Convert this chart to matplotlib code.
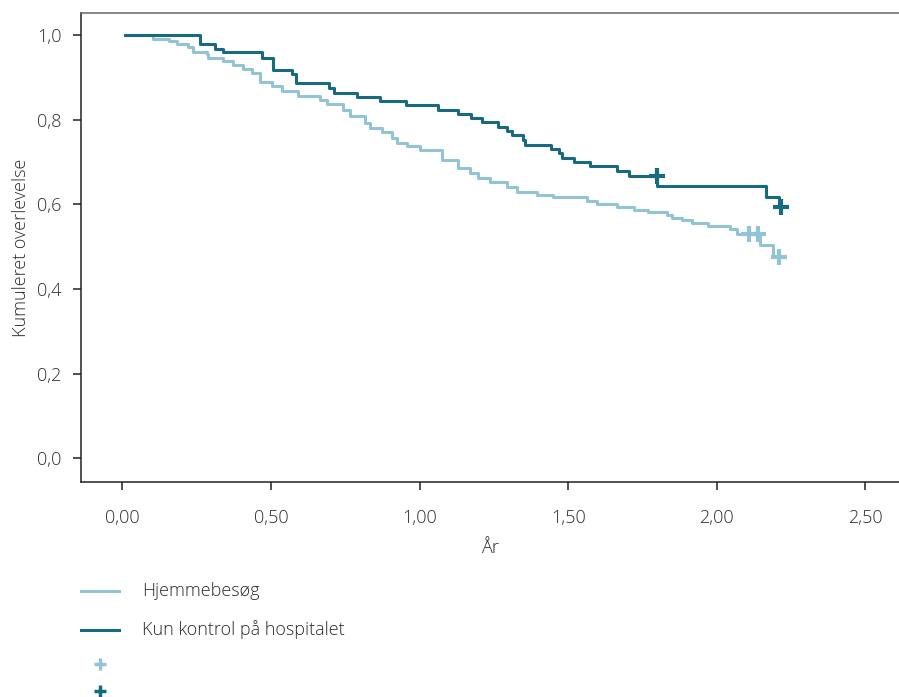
import matplotlib
matplotlib.use("Agg")
import matplotlib.pyplot as plt
from matplotlib.lines import Line2D

plt.rcParams['font.family'] = ['Open Sans', 'DejaVu Sans']
plt.rcParams['font.weight'] = 'light'
plt.rcParams['axes.labelweight'] = 'light'

# Kaplan-Meier steps
homeTimes = [0.01, 0.102, 0.158, 0.183, 0.222, 0.239, 0.284, 0.289, 0.340, 0.373, 0.407, 0.435,
             0.463, 0.503, 0.536, 0.592, 0.665, 0.688, 0.744, 0.766, 0.817, 0.833, 0.873, 0.906,
             0.923, 0.957, 1.002, 1.075, 1.131, 1.170, 1.198, 1.237, 1.293, 1.327, 1.394, 1.450,
             1.562, 1.596, 1.663, 1.720, 1.770, 1.832, 1.849, 1.882, 1.916, 1.972, 2.045, 2.067,
             2.146, 2.190, 2.210]
homeSurv = [1.0, 0.991, 0.985, 0.979, 0.972, 0.960, 0.955, 0.946, 0.938, 0.930, 0.920, 0.910,
            0.890, 0.881, 0.867, 0.857, 0.847, 0.837, 0.823, 0.808, 0.792, 0.780, 0.772, 0.757,
            0.745, 0.737, 0.728, 0.705, 0.686, 0.674, 0.662, 0.652, 0.641, 0.630, 0.622, 0.617,
            0.609, 0.601, 0.593, 0.587, 0.582, 0.576, 0.569, 0.562, 0.556, 0.548, 0.541, 0.531,
            0.503, 0.475, 0.475]
homeCensT = [2.11, 2.14, 2.21]
homeCensS = [0.531, 0.531, 0.475]

hospTimes = [0.01, 0.261, 0.312, 0.340, 0.469, 0.506, 0.570, 0.584, 0.697, 0.712, 0.790, 0.867,
             0.955, 1.061, 1.131, 1.173, 1.209, 1.263, 1.293, 1.310, 1.347, 1.355, 1.442, 1.470,
             1.478, 1.520, 1.574, 1.663, 1.704, 1.800, 2.165, 2.210, 2.216]
hospSurv = [1.0, 0.979, 0.968, 0.959, 0.947, 0.918, 0.909, 0.887, 0.876, 0.864, 0.853, 0.845,
            0.836, 0.823, 0.814, 0.804, 0.795, 0.782, 0.774, 0.764, 0.752, 0.741, 0.730, 0.721,
            0.709, 0.700, 0.690, 0.680, 0.667, 0.643, 0.617, 0.593, 0.593]
hospCensT = [1.798, 2.216]
hospCensS = [0.667, 0.593]

xTicks = [0, 0.5, 1.0, 1.5, 2.0, 2.5]
yTicks = [0, 0.2, 0.4, 0.6, 0.8, 1.0]
labels = ["Hjemmebesøg", "Kun kontrol på hospitalet"]

lightCol = "#93c4d5"
darkCol = "#176a7f"
textCol = "#2b2b2b"

fig = plt.figure(figsize=(8.99, 6.97), dpi=100)
ax = fig.add_axes([0.0901, 0.308, 0.9099, 0.674])

ax.step(homeTimes, homeSurv, where="post", color=lightCol, lw=2.2)
ax.step(hospTimes, hospSurv, where="post", color=darkCol, lw=2.2)
ax.plot(homeCensT, homeCensS, ls="none", marker="+", ms=11, mew=3, color=lightCol)
ax.plot(hospCensT, hospCensS, ls="none", marker="+", ms=11, mew=3, color=darkCol)

ax.set_xlim(-0.139, 2.613)
ax.set_ylim(-0.0567, 1.0534)
ax.set_xticks(xTicks)
ax.set_xticklabels([f"{v:.2f}".replace(".", ",") for v in xTicks])
ax.set_yticks(yTicks)
ax.set_yticklabels([f"{v:.1f}".replace(".", ",") for v in yTicks])
ax.tick_params(axis="x", length=6, width=1.1, color="#222222", pad=13, labelsize=13, labelcolor=textCol)
ax.tick_params(axis="y", length=6, width=1.1, color="#222222", pad=8, labelsize=13, labelcolor=textCol)

for s in ["left", "bottom"]:
    ax.spines[s].set_color("#222222")
    ax.spines[s].set_linewidth(1.1)
ax.spines["top"].set_color("#666666")
ax.spines["top"].set_linewidth(1.1)
ax.spines["right"].set_visible(False)

ax.set_xlabel("År", fontsize=13, color=textCol, labelpad=9)
ax.set_ylabel("Kumuleret overlevelse", fontsize=13, color=textCol, labelpad=5)

# legend drawn below the axes
fig.add_artist(Line2D([0.0901, 0.1324], [0.1525, 0.1525], color=lightCol, lw=2.2))
fig.add_artist(Line2D([0.0901, 0.1324], [0.0961, 0.0961], color=darkCol, lw=2.2))
fig.text(0.1576, 0.1525, labels[0], fontsize=13, color=textCol, va="center")
fig.text(0.1576, 0.0961, labels[1], fontsize=13, color=textCol, va="center")
fig.add_artist(Line2D([0.1112], [0.0469], ls="none", marker="+", ms=8, mew=2.5, color=lightCol))
fig.add_artist(Line2D([0.1112], [0.0093], ls="none", marker="+", ms=8, mew=2.5, color=darkCol))

fig.savefig("out.png", dpi=100)
